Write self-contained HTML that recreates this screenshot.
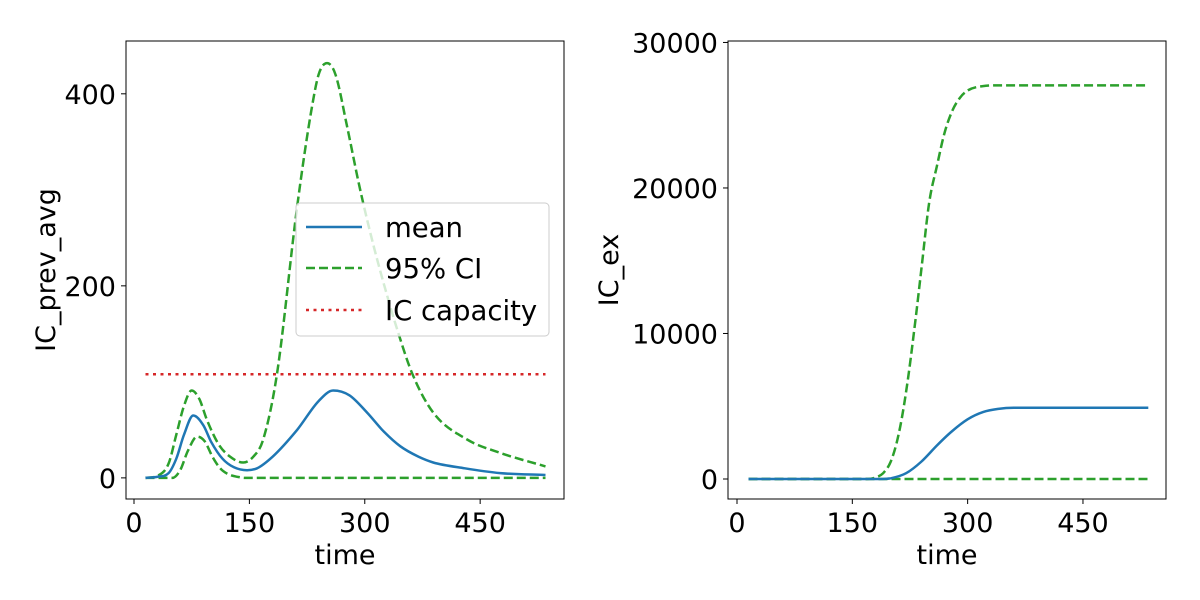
<!DOCTYPE html>
<html><head><meta charset="utf-8"><style>
body{margin:0;background:#fff}
svg{display:block;font-family:"DejaVu Sans","Liberation Sans",sans-serif}
</style></head><body>
<svg id="c" width="1200" height="600" xmlns="http://www.w3.org/2000/svg"></svg>
<script>
// Left panel data
const timesMean=[15,30,45,55,65,77,90,100,115,130,147,160,180,212,240,259,280,303,325,346,370,389,430,476,535];
const meanPrev=[0,1,5,20,45,65,55,38,20,11,8,10,22,50,80,91,86,68,48,33,22,16,10,5,3];
const timesUpper=[15,30,45,55,65,75,85,95,110,125,142,155,168,186,212,230,240,251,262,277,294,312,329,342,362,389,433,476,535];
const upperPrev=[0,2,15,45,75,91,82,60,35,22,16,22,40,109,282,380,420,432,420,366,300,240,190,155,108,68,40,26,12];
const timesLower=[15,50,60,70,82,92,102,112,122,135,145,535];
const lowerPrev=[0,0,8,28,43,38,22,10,4,1,0,0];
const capacity=[108,108];
const capTimes=[15,535];
// Right panel data
const timesExMean=[15,190,200,220,240,260,280,300,320,340,360,535];
const meanEx=[0,0,50,400,1200,2300,3300,4100,4600,4820,4900,4900];
const timesExUp=[15,170,180,190,200,210,220,230,240,250,260,270,280,290,300,320,340,535];
const upperEx=[0,0,100,400,1200,3000,6000,10000,14500,19000,21500,23800,25300,26200,26700,27000,27050,27050];
const timesExLow=[15,535];
const lowerEx=[0,0];
const xTicks=[0,150,300,450];
const yTicksL=[0,200,400];
const yTicksR=[0,10000,20000,30000];

const svg=document.getElementById('c');
const NS='http://www.w3.org/2000/svg';
function el(t,a,p){const e=document.createElementNS(NS,t);for(const k in a)e.setAttribute(k,a[k]);(p||svg).appendChild(e);return e;}
function panel(x0,x1,y0,y1,xmin,xmax,ymin,ymax,name){
  const g=el('g',{});
  
  
  return {g,sx:v=>x0+(v-xmin)/(xmax-xmin)*(x1-x0),sy:v=>y1-(v-ymin)/(ymax-ymin)*(y1-y0),x0,x1,y0,y1};
}
function monoPath(X,Y){
  const n=X.length;if(n<3)return 'M'+X.map((x,i)=>x.toFixed(1)+','+Y[i].toFixed(1)).join('L');
  const d=[],m=new Array(n);
  for(let i=0;i<n-1;i++)d.push((Y[i+1]-Y[i])/(X[i+1]-X[i]));
  m[0]=d[0];m[n-1]=d[n-2];
  for(let i=1;i<n-1;i++){m[i]=(d[i-1]*d[i]<=0)?0:(d[i-1]+d[i])/2;}
  for(let i=0;i<n-1;i++){if(d[i]===0){m[i]=0;m[i+1]=0;continue;}
    const a=m[i]/d[i],b=m[i+1]/d[i],s=a*a+b*b;if(s>9){const t=3/Math.sqrt(s);m[i]=t*a*d[i];m[i+1]=t*b*d[i];}}
  let p='M'+X[0].toFixed(1)+','+Y[0].toFixed(1);
  for(let i=0;i<n-1;i++){const h=(X[i+1]-X[i])/3;
    p+=`C${(X[i]+h).toFixed(1)},${(Y[i]+m[i]*h).toFixed(1)} ${(X[i+1]-h).toFixed(1)},${(Y[i+1]-m[i+1]*h).toFixed(1)} ${X[i+1].toFixed(1)},${Y[i+1].toFixed(1)}`;}
  return p;
}
function line(P,xs,ys,color,dash,name){
  const a={d:monoPath(xs.map(P.sx),ys.map(P.sy)),fill:'none',stroke:color,'stroke-width':2.5,'stroke-linejoin':'round'};
  if(dash)a['stroke-dasharray']=dash;
  const e=el('path',a,P.g);
  
  
}
function axes(P,yt,ylabel,lx){
  const r=el('rect',{x:P.x0,y:P.y0,width:P.x1-P.x0,height:P.y1-P.y0,fill:'none',stroke:'#000','stroke-width':1},P.g);
  
  
  xTicks.forEach(v=>{const x=P.sx(v);el('line',{x1:x,x2:x,y1:P.y1,y2:P.y1+5,stroke:'#000'},P.g);
    const t=el('text',{x:x,y:P.y1+33,'text-anchor':'middle','font-size':27},P.g);t.textContent=v;
    });
  yt.forEach(v=>{const y=P.sy(v);el('line',{x1:P.x0-5,x2:P.x0,y1:y,y2:y,stroke:'#000'},P.g);
    const t=el('text',{x:P.x0-10,y:y+10,'text-anchor':'end','font-size':27},P.g);t.textContent=v;
    });
  const xl=el('text',{x:(P.x0+P.x1)/2,y:564,'text-anchor':'middle','font-size':27},P.g);xl.textContent='time';
  
  const yl=el('text',{x:lx,y:(P.y0+P.y1)/2,'text-anchor':'middle','font-size':27,transform:`rotate(-90 ${lx} ${(P.y0+P.y1)/2})`},P.g);yl.textContent=ylabel;
  
}
const L=panel(126,564,41,499,-10.4,559,-22,455,'left-panel');
line(L,capTimes,capacity,'#d62728','3,4.5','capacity-line');
line(L,timesUpper,upperPrev,'#2ca02c','9,4','upper-ci-line');
line(L,timesLower,lowerPrev,'#2ca02c','9,4','lower-ci-line');
line(L,timesMean,meanPrev,'#1f77b4',null,'mean-line');
axes(L,yTicksL,'IC_prev_avg',55);
const lg=el('g',{},L.g);


el('rect',{x:296,y:203,width:253,height:133,rx:4,fill:'#fff','fill-opacity':0.8,stroke:'#ccc'},lg);
[['mean','#1f77b4',null,227],['95% CI','#2ca02c','9,4',268],['IC capacity','#d62728','3,4.5',310]].forEach(([n,c,d,y])=>{
  const a={x1:306,x2:362,y1:y,y2:y,stroke:c,'stroke-width':2.5};if(d)a['stroke-dasharray']=d;el('line',a,lg);
  const t=el('text',{x:385,y:y+10,'font-size':27.5},lg);t.textContent=n;
  
});
const R=panel(728,1166,41,499,-11.7,558,-1375,30100,'right-panel');
line(R,timesExUp,upperEx,'#2ca02c','9,4','upper-ci-line');
line(R,timesExLow,lowerEx,'#2ca02c','9,4','lower-ci-line');
line(R,timesExMean,meanEx,'#1f77b4',null,'mean-line');
axes(R,yTicksR,'IC_ex',618);
</script>
</body></html>
